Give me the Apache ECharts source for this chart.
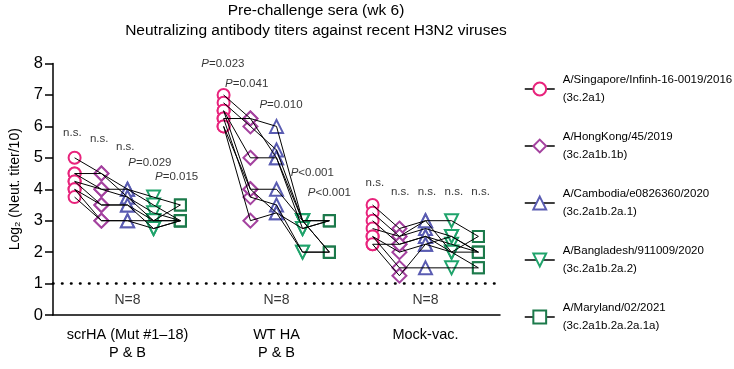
<!DOCTYPE html>
<html>
<head>
<meta charset="utf-8">
<script src="https://cdn.jsdelivr.net/npm/echarts@6/dist/echarts.min.js"></script>
<style>html,body{margin:0;padding:0;background:#fff}#c{width:734px;height:369px}</style>
</head>
<body>
<div id="c"></div>
<script>
// ---- data ----
const categories = ['scrHA (Mut #1\u201318)\nP & B', 'WT HA\nP & B', 'Mock-vac.'];
const viruses = ['A/Singapore/Infinh-16-0019/2016', 'A/HongKong/45/2019', 'A/Cambodia/e0826360/2020', 'A/Bangladesh/911009/2020', 'A/Maryland/02/2021'];
const clades = ['(3c.2a1)', '(3c.2a1b.1b)', '(3c.2a1b.2a.1)', '(3c.2a1b.2a.2)', '(3c.2a1b.2a.2a.1a)'];
// each row: one animal, values for the 5 viruses (log2 titer/10)
const scrHA = [
  [5.0, 4.5, 4.0, 3.75, 3.5],
  [4.5, 4.0, 4.0, 3.5, 3.0],
  [4.5, 4.5, 3.75, 3.25, 3.0],
  [4.25, 3.5, 3.5, 3.0, 3.0],
  [4.25, 4.0, 3.75, 3.0, 3.5],
  [4.0, 3.0, 3.0, 3.0, 3.0],
  [4.0, 3.5, 3.5, 2.75, 3.0],
  [3.75, 3.0, 3.0, 2.75, 3.0]
];
const wtHA = [
  [7.0, 6.25, 6.0, 3.0, 3.0],
  [6.75, 6.0, 5.25, 3.0, 2.0],
  [6.5, 5.0, 5.0, 2.75, 3.0],
  [6.5, 4.0, 4.0, 3.0, 2.0],
  [6.25, 6.25, 5.0, 3.0, 3.0],
  [6.25, 3.75, 3.5, 2.0, 2.0],
  [6.0, 4.0, 3.25, 2.75, 3.0],
  [6.0, 3.0, 3.25, 2.0, 2.0]
];
const mock = [
  [3.5, 2.75, 3.0, 3.0, 2.5],
  [3.25, 2.5, 2.75, 2.5, 2.0],
  [3.0, 2.25, 2.5, 2.25, 2.0],
  [2.75, 2.5, 3.0, 2.0, 2.5],
  [2.5, 2.0, 2.25, 2.5, 2.0],
  [2.25, 2.25, 2.5, 2.0, 1.5],
  [2.5, 1.5, 1.5, 1.5, 1.5],
  [2.25, 1.25, 2.25, 2.0, 2.0]
];
const groups = [scrHA, wtHA, mock];
const statLabels = [
  ['n.s.', 'n.s.', 'n.s.', 'P=0.029', 'P=0.015'],
  ['P=0.023', 'P=0.041', 'P=0.010', 'P<0.001', 'P<0.001'],
  ['n.s.', 'n.s.', 'n.s.', 'n.s.', 'n.s.']
];
const nLabels = ['N=8', 'N=8', 'N=8'];
const detectionLimit = 1;

// ---- layout / style ----
const colOffset = [-0.355, -0.175, 0, 0.175, 0.355];
const colors = ['#e8237c', '#a4429f', '#5a5cb2', '#1fa36b', '#1c7a4b'];
const symbols = ['emptyCircle', 'emptyDiamond', 'emptyTriangle', 'emptyTriangle', 'emptyRect'];
const rotates = [0, 0, 0, 180, 0];
const sizes = [12, 14, 13, 13, 11];
const labelPos = [
  [[0.63, 5.8], [0.81, 5.6], [0.985, 5.35], [1.15, 4.84], [1.33, 4.39]],
  [[1.64, 8.0], [1.80, 7.36], [2.03, 6.7], [2.24, 4.52], [2.355, 3.885]],
  [[2.66, 4.2], [2.83, 3.92], [3.01, 3.92], [3.19, 3.92], [3.37, 3.92]]
];

const series = [];
groups.forEach((g, gi) => {
  g.forEach(animal => {
    series.push({
      type: 'line', xAxisIndex: 1, symbol: 'none', silent: true, z: 4,
      lineStyle: { color: '#000', width: 1 },
      data: animal.map((v, vi) => [gi + 1 + colOffset[vi], v])
    });
  });
});
viruses.forEach((name, vi) => {
  const pts = [];
  groups.forEach((g, gi) => g.forEach(a => pts.push([gi + 1 + colOffset[vi], a[vi]])));
  series.push({
    name: name, type: 'line', xAxisIndex: 1, z: 3,
    symbol: symbols[vi], symbolRotate: rotates[vi],
    symbolSize: sizes[vi], showAllSymbol: true,
    itemStyle: { color: colors[vi], borderWidth: 2 },
    lineStyle: { width: 0, opacity: 0 },
    data: pts
  });
});
// stat labels
const statData = [];
statLabels.forEach((row, gi) => row.forEach((t, ci) => {
  statData.push({ value: labelPos[gi][ci], name: t });
}));
series.push({
  type: 'scatter', xAxisIndex: 1, symbolSize: 0, clip: false, silent: true, z: 5,
  label: {
    show: true, position: 'inside', color: '#000', fontSize: 11.5,
    fontFamily: 'Liberation Sans, Arial, sans-serif',
    formatter: p => p.name.startsWith('P') ? '{i|P}' + p.name.slice(1) : p.name,
    rich: { i: { fontStyle: 'italic', fontSize: 11.5, color: '#000', fontFamily: 'Liberation Sans, Arial, sans-serif' } }
  },
  data: statData
});
series.push({
  type: 'scatter', xAxisIndex: 1, symbolSize: 0, clip: false, silent: true,
  label: { show: true, position: 'inside', color: '#000', fontSize: 14, fontFamily: 'Liberation Sans, Arial, sans-serif',
    formatter: p => p.name },
  data: nLabels.map((t, i) => ({ value: [i + 1, 0.48], name: t })),
  markLine: {
    silent: true, symbol: 'none', animation: false,
    lineStyle: { color: '#000', type: [0.5, 8.5], width: 2.6, cap: 'round' },
    label: { show: false },
    data: [{ yAxis: detectionLimit }]
  }
});

const chart = echarts.init(document.getElementById('c'), null, { renderer: 'canvas' });
chart.setOption({
  animation: false,
  backgroundColor: '#fff',
  textStyle: { fontFamily: 'Liberation Sans, Arial, sans-serif' },
  title: {
    text: 'Pre-challenge sera (wk 6)\nNeutralizing antibody titers against recent H3N2 viruses',
    left: 311, top: -4, textAlign: 'center',
    textStyle: { fontSize: 15.5, fontWeight: 'normal', color: '#000', lineHeight: 20, fontFamily: 'Liberation Sans, Arial, sans-serif' }
  },
  legend: {
    orient: 'vertical', left: 519, top: 66,
    itemWidth: 30, itemHeight: 16, itemGap: 21,
    data: viruses,
    lineStyle: { color: '#000', width: 1.5, opacity: 1 },
    formatter: name => name + '\n' + clades[viruses.indexOf(name)],
    textStyle: { fontSize: 11.5, lineHeight: 18, color: '#000', fontFamily: 'Liberation Sans, Arial, sans-serif', padding: [0, 0, 0, 3] }
  },
  grid: { left: 44, right: 234, top: 63.5, bottom: 54 },
  xAxis: [
    {
      type: 'category', data: categories, boundaryGap: true,
      axisLine: { lineStyle: { color: '#000', width: 1.5 } },
      axisTick: { length: 8, alignWithLabel: true, lineStyle: { width: 1.5, color: '#000' } },
      axisLabel: { color: '#000', fontSize: 14.5, lineHeight: 18, margin: 11, interval: 0 }
    },
    { type: 'value', min: 0.5, max: 3.5, show: false }
  ],
  yAxis: {
    type: 'value', min: 0, max: 8, interval: 1,
    name: 'Log\u2082 (Neut. titer/10)', nameLocation: 'middle', nameGap: 31, nameRotate: 90,
    nameTextStyle: { fontSize: 14, color: '#000' },
    axisLine: { show: true, lineStyle: { color: '#000', width: 1.5 } },
    axisTick: { show: true, length: 8, lineStyle: { width: 1.5, color: '#000' } },
    axisLabel: { color: '#000', fontSize: 16.5, margin: 10 },
    splitLine: { show: false }
  },
  series: series
});
</script>
</body>
</html>
